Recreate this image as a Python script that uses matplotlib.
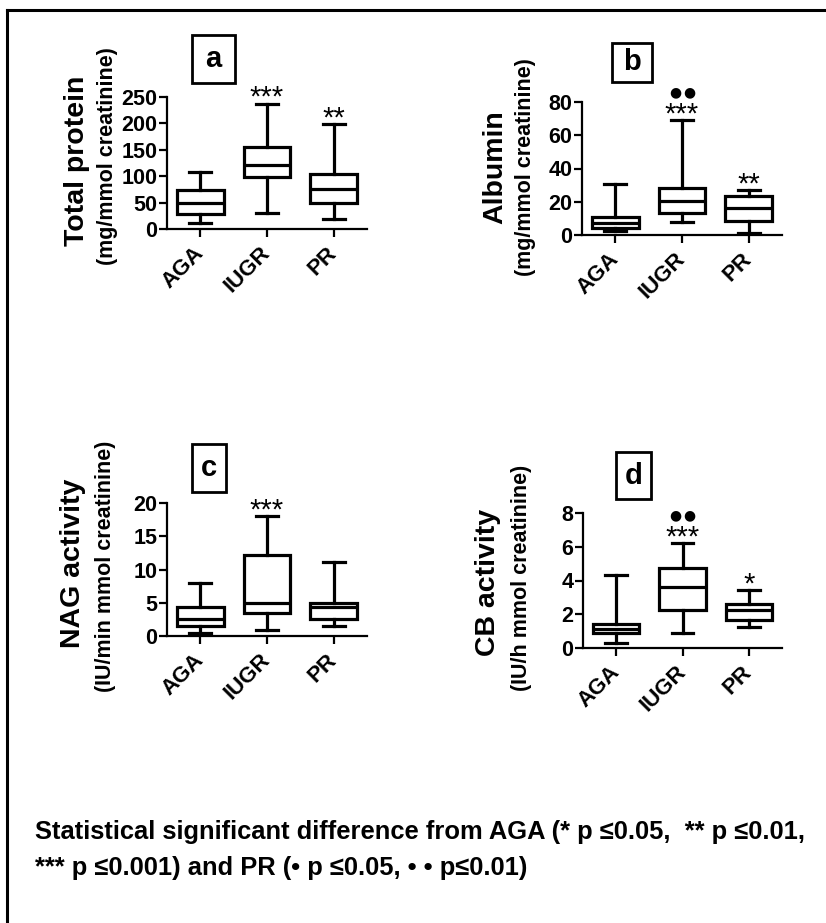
import matplotlib
matplotlib.use('Agg')
import matplotlib.pyplot as plt
from matplotlib.patches import Rectangle
from matplotlib.lines import Line2D

plt.rcParams['font.family'] = ['Liberation Sans', 'DejaVu Sans']
plt.rcParams['font.weight'] = 'bold'

W, H = 826, 923

groups = ['AGA', 'IUGR', 'PR']

# a - total protein (mg/mmol creatinine)
tp_lo = [12, 30, 18]
tp_q1 = [28, 98, 50]
tp_med = [50, 121, 76]
tp_q3 = [74, 156, 104]
tp_hi = [108, 237, 198]

# b - albumin (mg/mmol creatinine)
alb_lo = [2.6, 7.6, 1.0]
alb_q1 = [4.5, 13.4, 8.4]
alb_med = [7.5, 20.5, 16.0]
alb_q3 = [10.6, 28.5, 23.7]
alb_hi = [30.7, 69.0, 27.0]

# c - NAG activity (IU/min mmol creatinine)
nag_lo = [0.5, 0.9, 1.5]
nag_q1 = [1.5, 3.5, 2.5]
nag_med = [2.6, 5.0, 4.3]
nag_q3 = [4.4, 12.2, 4.9]
nag_hi = [8.0, 18.0, 11.2]

# d - CB activity (IU/h mmol creatinine)
cb_lo = [0.32, 0.91, 1.25]
cb_q1 = [0.9, 2.28, 1.65]
cb_med = [1.11, 3.63, 2.24]
cb_q3 = [1.41, 4.72, 2.6]
cb_hi = [4.33, 6.21, 3.43]

# significance marks vs AGA (stars) and vs PR (dots)
stars_a = ['', '***', '**']
stars_b = ['', '***', '**']
stars_c = ['', '***', '']
stars_d = ['', '***', '*']
dots_a = [0, 0, 0]
dots_b = [0, 2, 0]
dots_c = [0, 0, 0]
dots_d = [0, 2, 0]


def fx(x):
    return x / W


def fy(y):
    return 1 - y / H


def px2pt(p):
    return p * 72 / 100


panels = [
    dict(rect=(167, 97, 367, 229), stats=(tp_lo, tp_q1, tp_med, tp_q3, tp_hi),
         ylim=(0, 250), ticks=[0, 50, 100, 150, 200, 250],
         letter='a', lbox=(192, 35, 235, 83),
         title='Total protein', sub='(mg/mmol creatinine)',
         tpos=(77, 161), spos=(108, 156), stars=stars_a, dots=dots_a),
    dict(rect=(582, 102, 782, 235), stats=(alb_lo, alb_q1, alb_med, alb_q3, alb_hi),
         ylim=(0, 80), ticks=[0, 20, 40, 60, 80],
         letter='b', lbox=(612, 43, 652, 82),
         title='Albumin', sub='(mg/mmol creatinine)',
         tpos=(495, 167), spos=(526, 167), stars=stars_b, dots=dots_b),
    dict(rect=(167, 503, 367, 636), stats=(nag_lo, nag_q1, nag_med, nag_q3, nag_hi),
         ylim=(0, 20), ticks=[0, 5, 10, 15, 20],
         letter='c', lbox=(192, 444, 226, 492),
         title='NAG activity', sub='(IU/min mmol creatinine)',
         tpos=(73, 563), spos=(106, 566), stars=stars_c, dots=dots_c),
    dict(rect=(583, 513, 782, 648), stats=(cb_lo, cb_q1, cb_med, cb_q3, cb_hi),
         ylim=(0, 8), ticks=[0, 2, 4, 6, 8],
         letter='d', lbox=(616, 452, 651, 499),
         title='CB activity', sub='(IU/h mmol creatinine)',
         tpos=(488, 582), spos=(521, 578), stars=stars_d, dots=dots_d),
]

fig = plt.figure(figsize=(W / 100, H / 100), dpi=100)

lw = 2.3
for p in panels:
    x0, y0, x1, y1 = p['rect']
    ax = fig.add_axes([fx(x0), fy(y1), fx(x1) - fx(x0), fy(y0) - fy(y1)])
    lo, q1, med, q3, hi = p['stats']
    bstats = [dict(whislo=lo[i], q1=q1[i], med=med[i], q3=q3[i], whishi=hi[i],
                   fliers=[], label=groups[i]) for i in range(len(groups))]
    ax.bxp(bstats, positions=range(len(groups)), widths=0.7, capwidths=0.33,
           showfliers=False, patch_artist=True,
           boxprops=dict(facecolor='white', edgecolor='black', linewidth=lw),
           medianprops=dict(color='black', linewidth=lw),
           whiskerprops=dict(color='black', linewidth=lw),
           capprops=dict(color='black', linewidth=lw))
    ax.set_xlim(-0.5, 2.5)
    ax.set_ylim(*p['ylim'])
    ax.set_yticks(p['ticks'])
    ax.set_xticks(range(len(groups)))
    ax.set_xticklabels(groups, rotation=45, ha='right', va='center',
                       rotation_mode='anchor', fontsize=16, fontweight='bold')
    ax.tick_params(axis='y', labelsize=15.5, width=1.6, length=6, pad=1)
    ax.tick_params(axis='x', width=1.6, length=6, pad=9)
    for lab in ax.get_yticklabels():
        lab.set_fontweight('bold')
    for s in ['top', 'right']:
        ax.spines[s].set_visible(False)
    for s in ['left', 'bottom']:
        ax.spines[s].set_linewidth(1.6)
    ax.patch.set_visible(False)

    for i in range(len(groups)):
        if p['stars'][i]:
            ax.annotate(p['stars'][i], (i, hi[i]), xytext=(0, px2pt(-2)),
                        textcoords='offset points', ha='center', va='baseline',
                        fontsize=21, fontweight='normal', annotation_clip=False)
        if p['dots'][i]:
            for dx in (-7, 7):
                ax.annotate('\u25cf', (i, hi[i]), xytext=(px2pt(dx), px2pt(28)),
                            textcoords='offset points', ha='center', va='center',
                            fontsize=10, family='DejaVu Sans', annotation_clip=False)

    bx0, by0, bx1, by1 = p['lbox']
    fig.add_artist(Rectangle((fx(bx0), fy(by1)), fx(bx1) - fx(bx0), fy(by0) - fy(by1),
                             transform=fig.transFigure, fill=False,
                             edgecolor='black', linewidth=2.0))
    fig.text(fx((bx0 + bx1) / 2), fy((by0 + by1) / 2), p['letter'],
             ha='center', va='center', fontsize=21, fontweight='bold')

    fig.text(fx(p['tpos'][0]), fy(p['tpos'][1]), p['title'], rotation=90,
             ha='center', va='center', fontsize=20.5, fontweight='bold')
    fig.text(fx(p['spos'][0]), fy(p['spos'][1]), p['sub'], rotation=90,
             ha='center', va='center', fontsize=15.5, fontweight='bold')

# outer frame (cut off at right and bottom)
fig.add_artist(Line2D([fx(7), fx(W)], [fy(10), fy(10)], transform=fig.transFigure,
                      color='black', linewidth=2.2))
fig.add_artist(Line2D([fx(7), fx(7)], [fy(10), fy(H)], transform=fig.transFigure,
                      color='black', linewidth=2.2))

fig.text(fx(35), fy(832),
         'Statistical significant difference from AGA (* p \u22640.05,  ** p \u22640.01,',
         ha='left', va='center', fontsize=18.4, fontweight='bold')
fig.text(fx(35), fy(868),
         '*** p \u22640.001) and PR (\u2022 p \u22640.05, \u2022 \u2022 p\u22640.01)',
         ha='left', va='center', fontsize=18.4, fontweight='bold')

fig.savefig('out.png', dpi=100)
